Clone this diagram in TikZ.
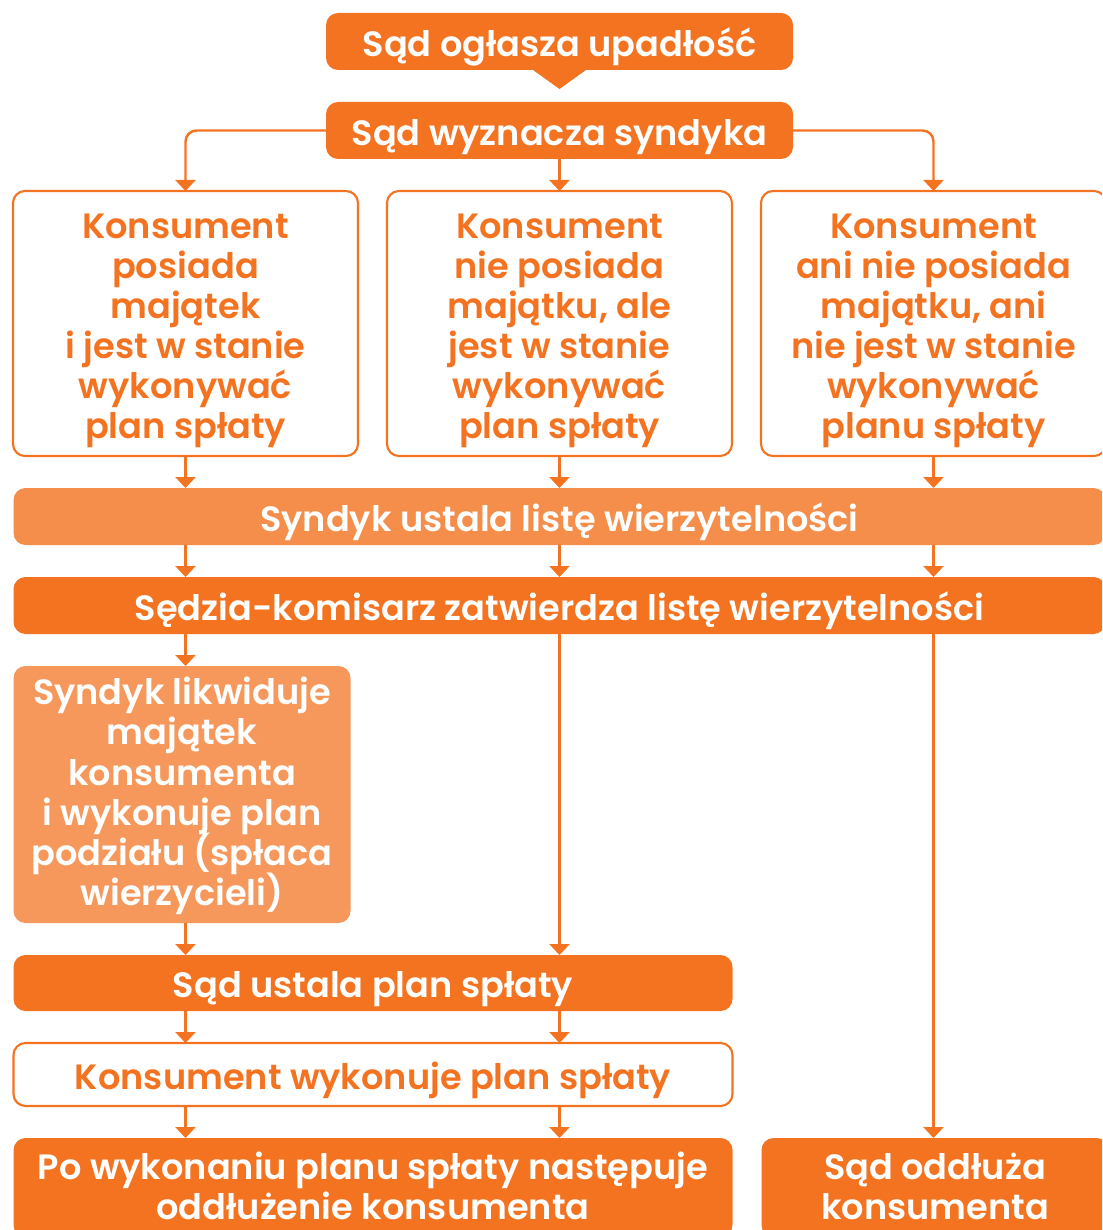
\documentclass[tikz,border=0pt]{standalone}
\usepackage{fontspec}
\setmainfont{Poppins}[BoldFont={Poppins SemiBold}]
\usetikzlibrary{arrows.meta,positioning}
\definecolor{pomarancz}{RGB}{243,115,33}
\definecolor{jasny}{RGB}{245,142,74}
\definecolor{blady}{RGB}{246,152,92}
\tikzset{
    %Define standard arrow tip
    >={Triangle[width=0.4cm,length=0.22cm]},
    strzalka/.style={
      ->,
      draw=pomarancz, line width=1.4pt},
    gora/.style={
      execute at begin node={\rule{0pt}{#1}}},
    krok/.style={
      rectangle,
      rounded corners=0.24cm,
      fill=pomarancz,
      text=white,
      font=\fontsize{20}{22.8}\selectfont\bfseries,
      inner sep=0pt, outer sep=0pt,
      align=center,
      gora=23pt,
      execute at end node={\rule[-6pt]{0pt}{6pt}}},
    pasek/.style={
      krok,
      fill=jasny},
    ramka/.style={
      krok,
      fill=white,
      draw=pomarancz, line width=1.2pt,
      text=pomarancz},
}

\begin{document}
\lineskiplimit=-20pt
\begin{tikzpicture}[node distance=0.64cm and 0.58cm]
    \clip (0,0) rectangle (22.04,-24.6);
    \node (sad1) [krok, minimum width=9.34cm, minimum height=1.14cm, anchor=north] at (11.19,-0.26)
          {Sąd ogłasza upadłość};
    \fill [pomarancz] ([xshift=-0.6cm,yshift=0.05cm]sad1.south) -- ([yshift=-0.38cm]sad1.south)
          -- ([xshift=0.6cm,yshift=0.05cm]sad1.south) -- cycle;
    \node (sad2) [krok, minimum width=9.34cm, minimum height=1.14cm] [below=of sad1]
          {Sąd wyznacza syndyka};
    \node (kol2) [ramka, gora=137pt, minimum width=6.9cm, minimum height=5.3cm] [below=of sad2]
          {Konsument\\nie posiada\\majątku, ale\\jest w stanie\\wykonywać\\plan spłaty};
    \node (kol1) [ramka, gora=137pt, minimum width=6.9cm, minimum height=5.3cm] [left=of kol2]
          {Konsument\\posiada\\majątek\\i jest w stanie\\wykonywać\\plan spłaty};
    \node (kol3) [ramka, gora=137pt, minimum width=6.9cm, minimum height=5.3cm] [right=of kol2]
          {Konsument\\ani nie posiada\\majątku, ani\\nie jest w stanie\\wykonywać\\planu spłaty};
    \node (lista) [pasek, minimum width=21.84cm, minimum height=1.14cm] [below=of kol2]
          {Syndyk ustala listę wierzytelności};
    \node (zatw) [krok, minimum width=21.84cm, minimum height=1.14cm] [below=of lista]
          {Sędzia-komisarz zatwierdza listę wierzytelności};
    \node (likw) [krok, fill=blady, gora=132pt, minimum width=6.74cm, minimum height=5.14cm]
          [below=of zatw.south west, anchor=north west]
          {Syndyk likwiduje\\majątek\\konsumenta\\i wykonuje plan\\podziału (spłaca\\wierzycieli)};
    \node (plan) [krok, minimum width=14.38cm, minimum height=1.12cm]
          [below=of likw.south west, anchor=north west]
          {Sąd ustala plan spłaty};
    \node (wykon) [ramka, minimum width=14.38cm, minimum height=1.26cm]
          [below=of plan]
          {Konsument wykonuje plan spłaty};
    \node (koniec1) [krok, gora=42pt, minimum width=14.38cm, minimum height=1.98cm]
          [below=of wykon]
          {Po wykonaniu planu spłaty następuje\\oddłużenie konsumenta};
    \node (koniec2) [krok, gora=42pt, minimum width=6.94cm, minimum height=1.98cm]
          [right=of koniec1]
          {Sąd oddłuża\\konsumenta};

    % rozgalezienie pod syndykiem
    \draw [strzalka, rounded corners=0.22cm] (sad2.west) -| (kol1.north);
    \draw [strzalka, rounded corners=0.22cm] (sad2.east) -| (kol3.north);
    \draw [strzalka] (sad2) -- (kol2);
    \foreach \k in {kol1,kol2,kol3} {
        \draw [strzalka] (\k) -- (lista.north -| \k);
        \draw [strzalka] (lista.south -| \k) -- (zatw.north -| \k);
    }
    \draw [strzalka] (zatw.south -| kol1) -- (likw.north -| kol1);
    \draw [strzalka] (likw.south -| kol1) -- (plan.north -| kol1);
    \draw [strzalka] (zatw.south -| kol2) -- (plan.north -| kol2);
    \draw [strzalka] (zatw.south -| kol3) -- (koniec2.north -| kol3);
    \foreach \k in {kol1,kol2} {
        \draw [strzalka] (plan.south -| \k) -- (wykon.north -| \k);
        \draw [strzalka] (wykon.south -| \k) -- (koniec1.north -| \k);
    }
\end{tikzpicture}
\end{document}
